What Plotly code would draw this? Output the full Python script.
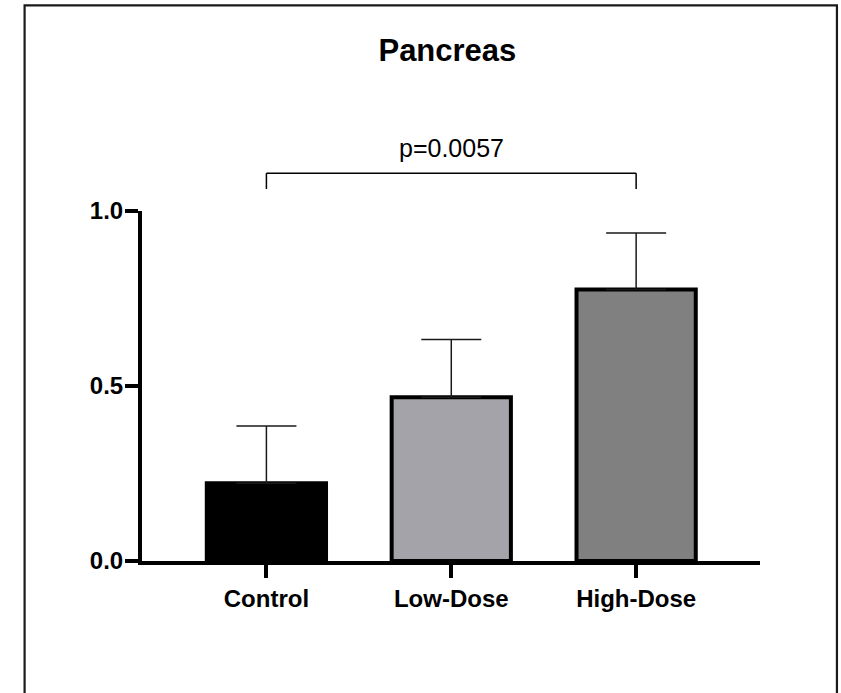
import plotly.graph_objects as go

# ---- data ----
categories = ["Control", "Low-Dose", "High-Dose"]
means = [0.222, 0.468, 0.776]
sem_up = [0.164, 0.165, 0.161]
bar_colors = ["#000000", "#A3A3A9", "#808080"]
y_tickvals = [0.0, 0.5, 1.0]
title_text = "Pancreas"
p_text = "p=0.0057"
bracket_groups = (0, 2)

# ---- layout constants (pixels) ----
W, H = 841, 693
L, R, T, B = 141.5, 81, 211, 131.5
plot_w = W - L - R
plot_h = H - T - B

FONT = "Arial, Liberation Sans, Helvetica, sans-serif"

fig = go.Figure()
fig.add_trace(go.Bar(
    x=list(range(len(categories))),
    y=means,
    width=0.645,
    marker=dict(color=bar_colors, line=dict(color="black", width=4)),
    error_y=dict(type="data", symmetric=False, array=sem_up,
                 arrayminus=[0] * len(sem_up),
                 color="#1a1a1a", thickness=1.5, width=30),
    showlegend=False,
    hoverinfo="skip",
))

def px_x(px):
    return (px - L) / plot_w

def px_y(py):
    return (H - B - py) / plot_h

shapes = []
# significance bracket (x in data, y in paper which equals data since range [0,1])
yb_top, yb_bot = 1.108, 1.063
shapes.append(dict(type="line", xref="x", yref="paper", x0=bracket_groups[0], x1=bracket_groups[1],
                   y0=yb_top, y1=yb_top, line=dict(color="black", width=1.5)))
for g in bracket_groups:
    shapes.append(dict(type="line", xref="x", yref="paper", x0=g, x1=g,
                       y0=yb_top, y1=yb_bot, line=dict(color="black", width=1.5)))
# outer frame
shapes.append(dict(type="rect", xref="paper", yref="paper",
                   x0=px_x(24), x1=px_x(837), y0=px_y(720), y1=px_y(5),
                   line=dict(color="#1a1a1a", width=2.2), fillcolor="rgba(0,0,0,0)"))

fig.update_layout(
    width=W, height=H,
    margin=dict(l=L, r=R, t=T, b=B, autoexpand=False),
    paper_bgcolor="white", plot_bgcolor="white",
    font=dict(family=FONT, color="black"),
    title=dict(text="<b>" + title_text + "</b>", x=0.532, xref="container",
               y=1 - 50 / H, yref="container", xanchor="center", yanchor="middle",
               font=dict(size=31, family=FONT, color="black")),
    shapes=shapes,
    annotations=[dict(text=p_text, xref="x", yref="paper", x=1, y=px_y(147.5),
                      showarrow=False, xanchor="center", yanchor="middle",
                      font=dict(size=25, family=FONT, color="black"))],
    xaxis=dict(range=[-0.673, 2.67], tickvals=list(range(len(categories))),
               ticktext=["<b>" + c + "</b>" for c in categories],
               showline=True, linecolor="black", linewidth=4,
               ticks="outside", ticklen=13, tickwidth=4, tickcolor="black",
               tickfont=dict(size=24, family=FONT, color="black"),
               showgrid=False, zeroline=False, fixedrange=True),
    yaxis=dict(range=[0, 1.0], tickvals=y_tickvals,
               ticktext=["<b>%.1f</b>" % v for v in y_tickvals],
               showline=True, linecolor="black", linewidth=4,
               ticks="outside", ticklen=13, tickwidth=4, tickcolor="black",
               ticklabelstandoff=-3,
               tickfont=dict(size=24, family=FONT, color="black"),
               showgrid=False, zeroline=False, fixedrange=True),
)

fig.write_html("out.html", config={"displayModeBar": False},
               post_script="document.body.style.margin='0';document.body.style.overflow='hidden';")
